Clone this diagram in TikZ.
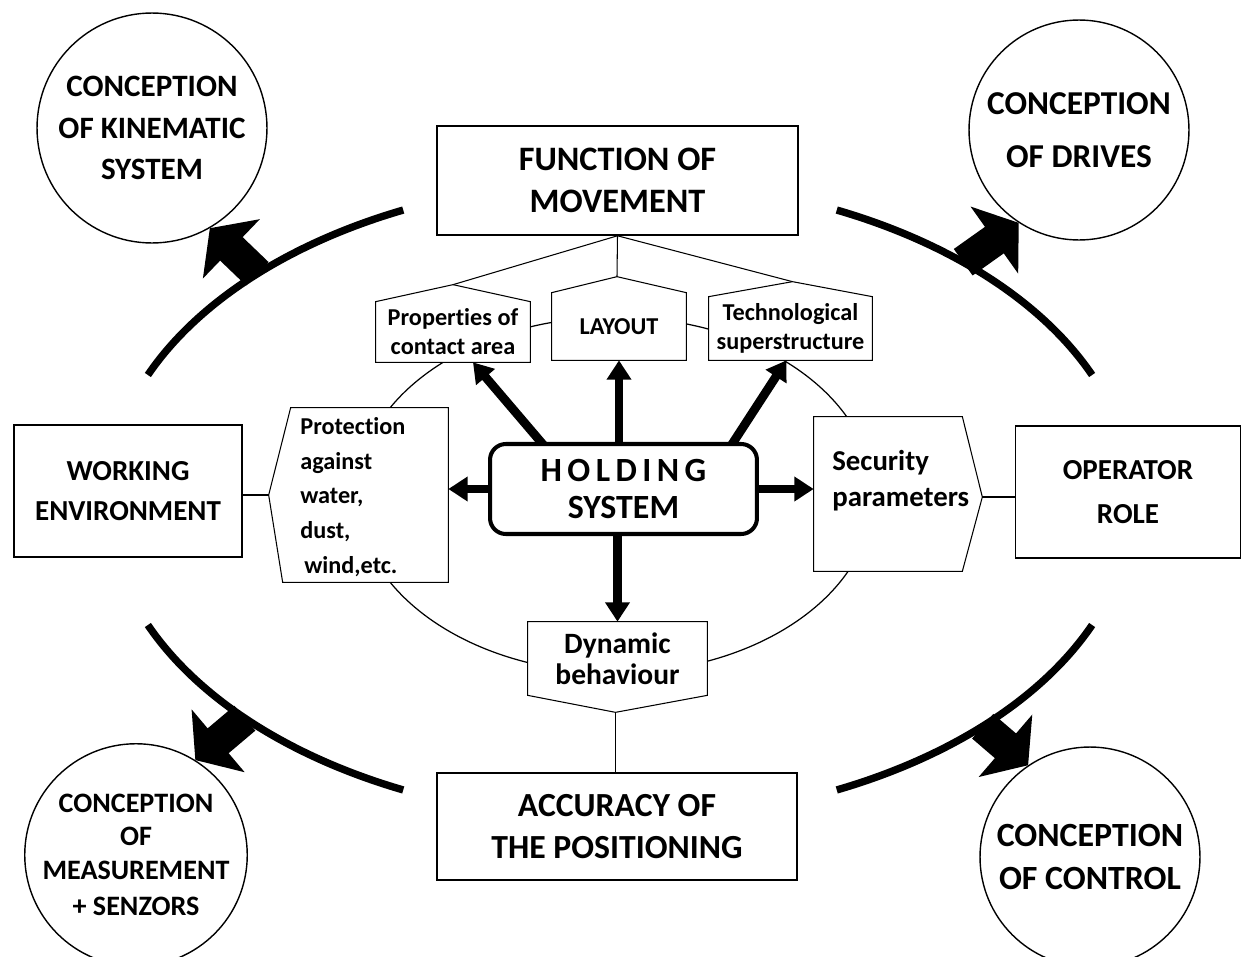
\documentclass[tikz,border=0pt]{standalone}
\usepackage{fontspec}
\setmainfont{Carlito}[Ligatures=CommonOff]
\usetikzlibrary{arrows.meta,calc}
\pgfdeclarelayer{under}
\pgfdeclarelayer{plates}
\pgfsetlayers{under,plates,main}
\newcommand\trk{\kern3.1pt}

\begin{document}
\begin{tikzpicture}[x=0.02cm,y=-0.02cm,
  thinline/.style={line width=0.6pt},
  frame/.style={draw, line width=0.9pt, fill=white, inner sep=0pt, align=center},
  bigcirc/.style={circle, draw, line width=0.8pt, fill=white, inner sep=0pt, align=center},
  plate/.style={inner sep=0pt},
  plateline/.style={draw, line width=0.6pt, fill=white},
  smalltxt/.style={font=\bfseries\fontsize{13.8}{16.5}\selectfont, align=center},
  rim/.style={line width=4.2pt},
  bigarrow/.style={line width=18.5pt, -{Triangle[length=17pt,width=46pt]}},
  smallarrow/.style={line width=5pt, -{Triangle[length=11pt,width=13.5pt]}},
]
\useasboundingbox (0,0) rectangle (1242,957);
\clip (0,0) rectangle (1242,957);

% inner ring
\begin{pgfonlayer}{under}
\draw[line width=0.7pt] (615,495) ellipse [x radius=5.16cm, y radius=3.56cm];
\end{pgfonlayer}

% main frames
\node[frame, minimum width=7.22cm, minimum height=2.18cm,
      font=\bfseries\fontsize{19.5}{24}\selectfont] (fom) at (617.5,180.5) {FUNCTION OF\\MOVEMENT};
\node[frame, minimum width=4.56cm, minimum height=2.64cm,
      font=\bfseries\fontsize{16.5}{22.7}\selectfont] (work) at (128,491) {WORKING\\ENVIRONMENT};
\node[frame, minimum width=4.5cm, minimum height=2.64cm,
      font=\bfseries\fontsize{16.5}{25}\selectfont] (oper) at (1128,492) {OPERATOR\\ROLE};
\node[frame, minimum width=7.2cm, minimum height=2.14cm,
      font=\bfseries\fontsize{19.2}{24.4}\selectfont] (acc) at (617,826.5) {ACCURACY OF\\THE POSITIONING};

% circles
\node[bigcirc, minimum size=4.6cm, font=\bfseries\fontsize{17.7}{23.8}\selectfont]
  (kin) at (152,128) {CONCEPTION\\OF KINEMATIC\\SYSTEM};
\node[bigcirc, minimum size=4.4cm, font=\bfseries\fontsize{19}{30}\selectfont]
  (drv) at (1079,130) {CONCEPTION\\OF DRIVES};
\node[bigcirc, minimum size=4.32cm, font=\bfseries\fontsize{16}{19}\selectfont]
  (meas) at (136,855) {CONCEPTION\\OF\\MEASUREMENT\\[2pt]+ SENZORS};
\node[bigcirc, minimum size=4.4cm, font=\bfseries\fontsize{19.3}{25}\selectfont]
  (ctrl) at (1090,857) {CONCEPTION\\OF CONTROL};

% plates around the holding system
\node[plate, minimum width=3.08cm, minimum height=1.2cm, smalltxt] (prop) at (453,332) {Properties of\\contact area};
\node[plate, minimum width=2.68cm, minimum height=1.34cm, smalltxt] (lay) at (619,326.5) {LAYOUT};
\node[plate, minimum width=3.26cm, minimum height=1.26cm, smalltxt] (tech) at (790.5,328.5) {Technological\\superstructure};
\node[plate, minimum width=3.22cm, minimum height=3.48cm] (prot) at (367.5,495) {};
\node[plate, minimum width=2.96cm, minimum height=3.08cm] (sec) at (888,494) {};
\node[plate, minimum width=3.58cm, minimum height=1.46cm,
      font=\bfseries\fontsize{16.8}{17.6}\selectfont, align=center] (dyn) at (617.5,658.5) {Dynamic\\behaviour};

\node[anchor=west, align=left, inner sep=0pt,
      font=\bfseries\fontsize{13.8}{19.8}\selectfont] (protT) at (300,497)
  {Protection\\against\\water,\\dust,\\\,wind,etc.};
\node[anchor=west, align=left, inner sep=0pt,
      font=\bfseries\fontsize{16.4}{20.4}\selectfont] (secT) at (832,481)
  {Security\\parameters};

\begin{pgfonlayer}{plates}
\draw[plateline] (prop.south west) -- (prop.north west) -- ($(prop.north)+(0,-17)$) coordinate (propTop)
  -- (prop.north east) -- (prop.south east) -- cycle;
\draw[plateline] (lay.south west) -- (lay.north west) -- ($(lay.north)+(-2,-16)$) coordinate (layTop)
  -- (lay.north east) -- (lay.south east) -- cycle;
\draw[plateline] (tech.south west) -- (tech.north west) -- ($(tech.north)+(2,-15)$) coordinate (techTop)
  -- (tech.north east) -- (tech.south east) -- cycle;
\draw[plateline] (prot.north east) -- ($(prot.north west)+(4,0)$) -- ($(prot.west)+(-18,0)$) coordinate (protTip)
  -- ($(prot.south west)+(-4,0)$) -- (prot.south east) -- cycle;
\draw[plateline] (sec.north west) -- (sec.north east) -- ($(sec.east)+(20,3)$) coordinate (secTip)
  -- (sec.south east) -- (sec.south west) -- cycle;
\draw[plateline] (dyn.north west) -- (dyn.south west) -- ($(dyn.south)+(-2,17)$) coordinate (dynTip)
  -- (dyn.south east) -- (dyn.north east) -- cycle;
\end{pgfonlayer}

% thin links
\draw[thinline] (fom.south) -- (propTop);
\draw[thinline] (fom.south) -- (layTop);
\draw[thinline] (fom.south) -- (techTop);
\draw[thinline] (protTip) -- (work.east |- protTip);
\draw[thinline] (secTip) -- (oper.west |- secTip);
\draw[thinline] (dynTip) -- (dynTip |- acc.north);

% holding system and its arrows
\coordinate (hold) at (623.5,489);
\draw[smallarrow] ($(hold)+(-80,-44)$) -- ($(prop.south)+(20,0)$);
\draw[smallarrow] (lay.south |- 0,445) -- (lay.south);
\draw[smallarrow] ($(hold)+(108,-44)$) -- ($(tech.south)+(-4,0)$);
\draw[smallarrow] (hold) -- (prot.east |- hold);
\draw[smallarrow] (hold) -- (sec.west |- hold);
\draw[smallarrow] (dyn.north |- hold) -- (dyn.north);
\node[draw, line width=2.3pt, fill=white, rounded corners=9pt, minimum width=5.34cm, minimum height=1.8cm,
      inner sep=0pt, align=center, font=\bfseries\fontsize{19.3}{21}\selectfont]
  (holdbox) at (hold) {H\trk O\trk L\trk D\trk I\trk N\trk G\\SYSTEM};

% outer rim and its arrows
\coordinate (rc) at (620,500);
\coordinate (rimTL) at ($(rc)+(135:10.26cm and 6.4cm)$);
\coordinate (rimTR) at ($(rc)+(48:10.26cm and 6.4cm)$);
\coordinate (rimBL) at ($(rc)+(223:10.26cm and 6.4cm)$);
\coordinate (rimBR) at ($(rc)+(-45:10.26cm and 6.4cm)$);
\draw[bigarrow] (rimTL) -- (kin.300);
\draw[bigarrow] (rimTR) -- (drv.237);
\draw[bigarrow] (rimBL) -- (meas.58);
\draw[bigarrow] (rimBR) -- (ctrl.124);

\draw[rim] (rc) ++(115:10.26cm and 6.4cm) arc[start angle=115, end angle=157, x radius=10.26cm, y radius=6.4cm];
\draw[rim] (rc) ++(23:10.26cm and 6.4cm) arc[start angle=23, end angle=65, x radius=10.26cm, y radius=6.4cm];
\draw[rim] (rc) ++(203:10.26cm and 6.4cm) arc[start angle=203, end angle=245, x radius=10.26cm, y radius=6.4cm];
\draw[rim] (rc) ++(-65:10.26cm and 6.4cm) arc[start angle=-65, end angle=-23, x radius=10.26cm, y radius=6.4cm];
\end{tikzpicture}
\end{document}
